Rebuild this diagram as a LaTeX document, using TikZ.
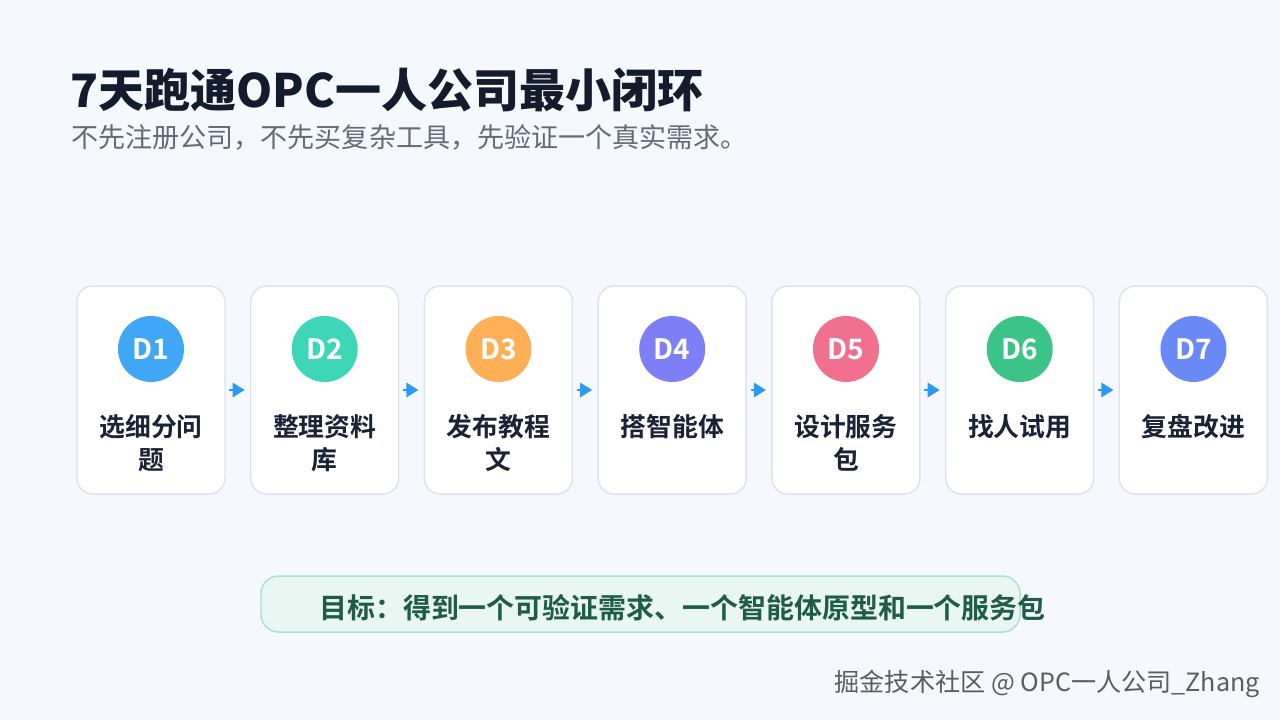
\documentclass[tikz,border=0pt]{standalone}
\usepackage{fontspec}
\setmainfont{Noto Sans CJK SC}[BoldFont={Noto Sans CJK SC Bold}]
\newfontfamily\heavyfont{Noto Sans CJK SC Black}
\usepackage{xcolor}
\usetikzlibrary{arrows.meta,positioning}
\definecolor{pagebg}{HTML}{F5F8FC}
\definecolor{cardline}{HTML}{DCE3EE}
\definecolor{titleink}{HTML}{141B2D}
\definecolor{subink}{HTML}{646B78}
\definecolor{labelink}{HTML}{1A2236}
\definecolor{flowblue}{HTML}{2B9AF3}
\definecolor{dayone}{HTML}{3FA7F6}
\definecolor{daytwo}{HTML}{3DD6B6}
\definecolor{daythree}{HTML}{FFB057}
\definecolor{dayfour}{HTML}{7E7EF7}
\definecolor{dayfive}{HTML}{F0708E}
\definecolor{daysix}{HTML}{3CC488}
\definecolor{dayseven}{HTML}{6889F6}
\definecolor{goalfill}{HTML}{E8F7F2}
\definecolor{goalline}{HTML}{A9E2D2}
\definecolor{goalink}{HTML}{1F5C48}
\definecolor{markink}{HTML}{5C5C5C}

\begin{document}
\begin{tikzpicture}[
  >=Stealth,
  card/.style={rectangle, draw=cardline, fill=white, line width=0.85pt, rounded corners=9pt, minimum width=2.96cm, minimum height=4.16cm},
  badge/.style={circle, minimum size=1.32cm, inner sep=0pt, text=white, font=\fontsize{16}{16}\selectfont\bfseries},
  daytext/.style={anchor=north, inner sep=0pt, align=center, text=labelink, font=\fontsize{14.7}{18.7}\selectfont\bfseries},
  flow/.style={-{Triangle[length=0.24cm,width=0.28cm]}, draw=flowblue, line width=1.6pt, shorten <=2pt, shorten >=3pt}
]
  % page
  \fill[pagebg] (0,0) rectangle (25.6,-14.4);
  \useasboundingbox (0,0) rectangle (25.6,-14.4);

  % heading
  \node[anchor=west, inner sep=0pt, text=titleink, font=\fontsize{26.2}{28}\selectfont\heavyfont] (title) at (1.40,-1.80) {7天跑通OPC一人公司最小闭环};
  \node[anchor=west, inner sep=0pt, text=subink, font=\fontsize{15.4}{16}\selectfont] (subtitle) at (1.42,-2.74) {不先注册公司，不先买复杂工具，先验证一个真实需求。};

  % seven days
  \node[card] (c1) at (3.02,-7.8) {};
  \node[card, right=0.485cm of c1] (c2) {};
  \node[card, right=0.485cm of c2] (c3) {};
  \node[card, right=0.485cm of c3] (c4) {};
  \node[card, right=0.485cm of c4] (c5) {};
  \node[card, right=0.485cm of c5] (c6) {};
  \node[card, right=0.485cm of c6] (c7) {};

  \node[badge, fill=dayone] (b1) at ([yshift=0.82cm]c1.center) {D1};
  \node[badge, fill=daytwo] (b2) at ([yshift=0.82cm]c2.center) {D2};
  \node[badge, fill=daythree] (b3) at ([yshift=0.82cm]c3.center) {D3};
  \node[badge, fill=dayfour] (b4) at ([yshift=0.82cm]c4.center) {D4};
  \node[badge, fill=dayfive] (b5) at ([yshift=0.82cm]c5.center) {D5};
  \node[badge, fill=daysix] (b6) at ([yshift=0.82cm]c6.center) {D6};
  \node[badge, fill=dayseven] (b7) at ([yshift=0.82cm]c7.center) {D7};

  \node[daytext] (t1) at ([yshift=-0.48cm]c1.center) {选细分问\\题};
  \node[daytext] (t2) at ([yshift=-0.48cm]c2.center) {整理资料\\库};
  \node[daytext] (t3) at ([yshift=-0.48cm]c3.center) {发布教程\\文};
  \node[daytext] (t4) at ([yshift=-0.48cm]c4.center) {搭智能体};
  \node[daytext] (t5) at ([yshift=-0.48cm]c5.center) {设计服务\\包};
  \node[daytext] (t6) at ([yshift=-0.48cm]c6.center) {找人试用};
  \node[daytext] (t7) at ([yshift=-0.48cm]c7.center) {复盘改进};

  \draw[flow] (c1) -- (c2);
  \draw[flow] (c2) -- (c3);
  \draw[flow] (c3) -- (c4);
  \draw[flow] (c4) -- (c5);
  \draw[flow] (c5) -- (c6);
  \draw[flow] (c6) -- (c7);

  % goal
  \node[rectangle, draw=goalline, fill=goalfill, line width=0.85pt, rounded corners=10pt, minimum width=15.18cm, minimum height=1.12cm] (goal) at (12.81,-12.08) {};
  \node[inner sep=0pt, text=goalink, font=\fontsize{15.9}{17}\selectfont\bfseries] (goaltext) at ([xshift=0.84cm,yshift=-0.08cm]goal.center) {目标：得到一个可验证需求、一个智能体原型和一个服务包};

  % footer
  \node[anchor=east, inner sep=0pt, text=markink, font=\fontsize{14.3}{15}\selectfont] (mark) at (25.2,-13.68) {掘金技术社区 @ OPC一人公司\_Zhang};
\end{tikzpicture}
\end{document}
